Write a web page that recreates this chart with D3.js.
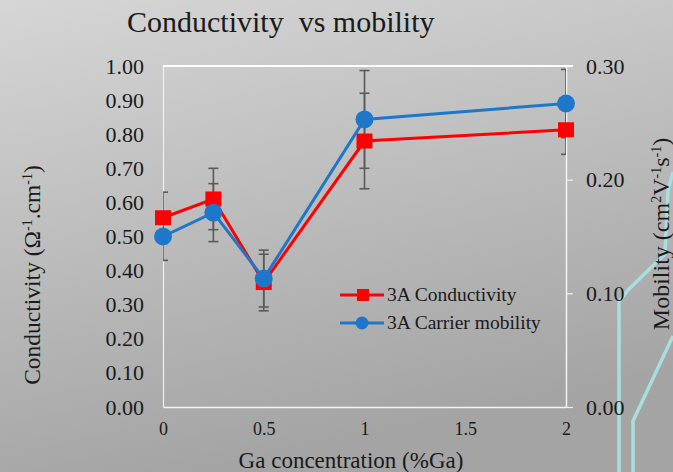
<!DOCTYPE html>
<html>
<head>
<meta charset="utf-8">
<script src="https://cdn.jsdelivr.net/npm/d3@7"></script>
<style>
  html, body { margin: 0; padding: 0; }
  body { width: 673px; height: 472px; overflow: hidden; }
  text { font-family: "Liberation Serif", "Times New Roman", serif; fill: #1a1a1a; }
</style>
</head>
<body>
<svg id="chart" width="673" height="472"></svg>
<script>
// Ga concentration (%Ga) of each sample
const gaConc = [0, 0.25, 0.5, 1, 2];
// 3A conductivity (Ω⁻¹·cm⁻¹) and its error
const conductivity = [0.555, 0.61, 0.365, 0.78, 0.813];
const conductivityErr = [0.075, 0.09, 0.083, 0.14, 0.072];
// 3A carrier mobility (cm²V⁻¹s⁻¹) and its error
const mobility = [0.15, 0.171, 0.113, 0.253, 0.267];
const mobilityErr = [0.021, 0.0255, 0.025, 0.043, 0.03];
// axis ticks
const xTicks = [0, 0.5, 1, 1.5, 2];
const leftTicks = [0, 0.1, 0.2, 0.3, 0.4, 0.5, 0.6, 0.7, 0.8, 0.9, 1.0];
const rightTicks = [0, 0.1, 0.2, 0.3];
const seriesNames = ["3A Conductivity", "3A Carrier mobility"];

const svg = d3.select("#chart");
const W = 673, H = 472;
const plot = { left: 163, right: 566, top: 66, bottom: 407 };
const serif = "Liberation Serif";

// slide background
const defs = svg.append("defs");
const grad = defs.append("linearGradient").attr("id", "bg")
  .attr("x1", "0").attr("y1", "0").attr("x2", "0.3").attr("y2", "1");
grad.append("stop").attr("offset", "0").attr("stop-color", "#d6d6d6");
grad.append("stop").attr("offset", "1").attr("stop-color", "#a4a4a4");
svg.append("rect").attr("width", W).attr("height", H).attr("fill", "url(#bg)");

// thin cyan strokes of the slide theme on the right edge
const deco = svg.append("g").attr("fill", "none").attr("stroke", "#a9dede")
  .attr("stroke-width", 3.5).attr("stroke-linejoin", "round");
deco.append("path").attr("d", "M619,472 L619,302 L628,290 L665,254 L668,190 L673,172");
deco.append("path").attr("d", "M633,472 L633,421 L673,336");

defs.append("clipPath").attr("id", "plotClip").append("rect")
  .attr("x", plot.left).attr("y", plot.top - 10)
  .attr("width", plot.right - plot.left).attr("height", plot.bottom - plot.top + 20);

// scales
const x = d3.scaleLinear().domain([0, 2]).range([plot.left, plot.right]);
const yL = d3.scaleLinear().domain([0, 1]).range([plot.bottom, plot.top]);
const yR = d3.scaleLinear().domain([0, 0.3]).range([plot.bottom, plot.top]);

// title
svg.append("text").attr("x", 127).attr("y", 32)
  .style("font-size", "30px").text("Conductivity\u00A0 vs mobility");

// left axis
const gL = svg.append("g").attr("transform", `translate(${plot.left},0)`)
  .call(d3.axisLeft(yL).tickValues(leftTicks).tickFormat(d3.format(".2f"))
    .tickSize(0).tickPadding(19));
gL.select(".domain").attr("stroke", "#efefef").attr("stroke-width", 1.2);
gL.selectAll(".tick text").style("font-size", "22px").style("font-family", serif).attr("fill", "#1a1a1a");

// right axis
const gR = svg.append("g").attr("transform", `translate(${plot.right},0)`)
  .call(d3.axisRight(yR).tickValues(rightTicks).tickFormat(d3.format(".2f"))
    .tickSize(7).tickSizeOuter(0).tickPadding(13));
gR.select(".domain").attr("stroke", "#f4f4f4").attr("stroke-width", 1.5);
gR.selectAll(".tick line").attr("stroke", "#eeeeee").attr("stroke-width", 1.2);
gR.selectAll(".tick text").style("font-size", "22px").style("font-family", serif).attr("fill", "#1a1a1a");

// bottom axis
const gB = svg.append("g").attr("transform", `translate(0,${plot.bottom})`)
  .call(d3.axisBottom(x).tickValues(xTicks).tickFormat(d => String(d))
    .tickSize(0).tickPadding(15));
gB.select(".domain").attr("stroke", "#f4f4f4").attr("stroke-width", 1.5);
gB.selectAll(".tick text").style("font-size", "18px").style("font-family", serif).attr("fill", "#1a1a1a");

// top border of the plot area
svg.append("line").attr("x1", plot.left).attr("x2", plot.right + 7)
  .attr("y1", yL(1)).attr("y2", yL(1))
  .attr("stroke", "#ffffff").attr("stroke-width", 2);

// axis titles
svg.append("text").attr("x", 351).attr("y", 468).attr("text-anchor", "middle")
  .style("font-size", "23px").text("Ga concentration (%Ga)");

svg.append("text").attr("transform", "translate(40,275) rotate(-90)")
  .attr("text-anchor", "middle").style("font-size", "23.5px")
  .html('Conductivity (Ω<tspan dy="-8" font-size="14">-1</tspan><tspan dy="8">.cm</tspan><tspan dy="-8" font-size="14">-1</tspan><tspan dy="8">)</tspan>');

svg.append("text").attr("transform", "translate(669,234) rotate(-90)")
  .attr("text-anchor", "middle").style("font-size", "24px")
  .html('Mobility (cm<tspan dy="-8" font-size="14">2</tspan><tspan dy="8">V</tspan><tspan dy="-8" font-size="14">-1</tspan><tspan dy="8">s</tspan><tspan dy="-8" font-size="14">-1</tspan><tspan dy="8">)</tspan>');

// series records
const cond = gaConc.map((g, i) => ({ g, v: conductivity[i], e: conductivityErr[i] }));
const mob = gaConc.map((g, i) => ({ g, v: mobility[i], e: mobilityErr[i] }));

// error bars (clipped to the plot area)
const errG = svg.append("g").attr("clip-path", "url(#plotClip)")
  .attr("stroke", "#5a5a5a").attr("stroke-width", 1.6).attr("fill", "none");
function errorBars(data, y) {
  const cap = 5;
  data.forEach(d => {
    const cx = x(d.g), y0 = y(d.v - d.e), y1 = y(d.v + d.e);
    errG.append("line").attr("x1", cx).attr("x2", cx).attr("y1", y0).attr("y2", y1);
    errG.append("line").attr("x1", cx - cap).attr("x2", cx + cap).attr("y1", y0).attr("y2", y0);
    errG.append("line").attr("x1", cx - cap).attr("x2", cx + cap).attr("y1", y1).attr("y2", y1);
  });
}
errorBars(cond, yL);
errorBars(mob, yR);

const red = "#ff0000", blue = "#1f77c9";

// conductivity line and square markers
svg.append("path").datum(cond).attr("fill", "none").attr("stroke", red).attr("stroke-width", 3)
  .attr("d", d3.line().x(d => x(d.g)).y(d => yL(d.v)));
svg.append("g").selectAll("rect").data(cond).join("rect")
  .attr("x", d => x(d.g) - 8).attr("y", d => yL(d.v) - 7.5).attr("width", 16).attr("height", 15)
  .attr("fill", red);

// mobility line and circle markers
svg.append("path").datum(mob).attr("fill", "none").attr("stroke", blue).attr("stroke-width", 3)
  .attr("d", d3.line().x(d => x(d.g)).y(d => yR(d.v)));
svg.append("g").selectAll("circle").data(mob).join("circle")
  .attr("cx", d => x(d.g)).attr("cy", d => yR(d.v)).attr("r", 9)
  .attr("fill", blue);

// legend
const legend = svg.append("g");
[{ name: seriesNames[0], color: red, shape: "square", y: 295 },
 { name: seriesNames[1], color: blue, shape: "circle", y: 323 }].forEach(item => {
  legend.append("line").attr("x1", 340).attr("x2", 384).attr("y1", item.y).attr("y2", item.y)
    .attr("stroke", item.color).attr("stroke-width", 3);
  if (item.shape === "square") {
    legend.append("rect").attr("x", 357).attr("y", item.y - 6).attr("width", 12).attr("height", 12)
      .attr("fill", item.color);
  } else {
    legend.append("circle").attr("cx", 362).attr("cy", item.y).attr("r", 6.5).attr("fill", item.color);
  }
  legend.append("text").attr("x", 387).attr("y", item.y + 6).style("font-size", "19.5px").text(item.name);
});
</script>
</body>
</html>
